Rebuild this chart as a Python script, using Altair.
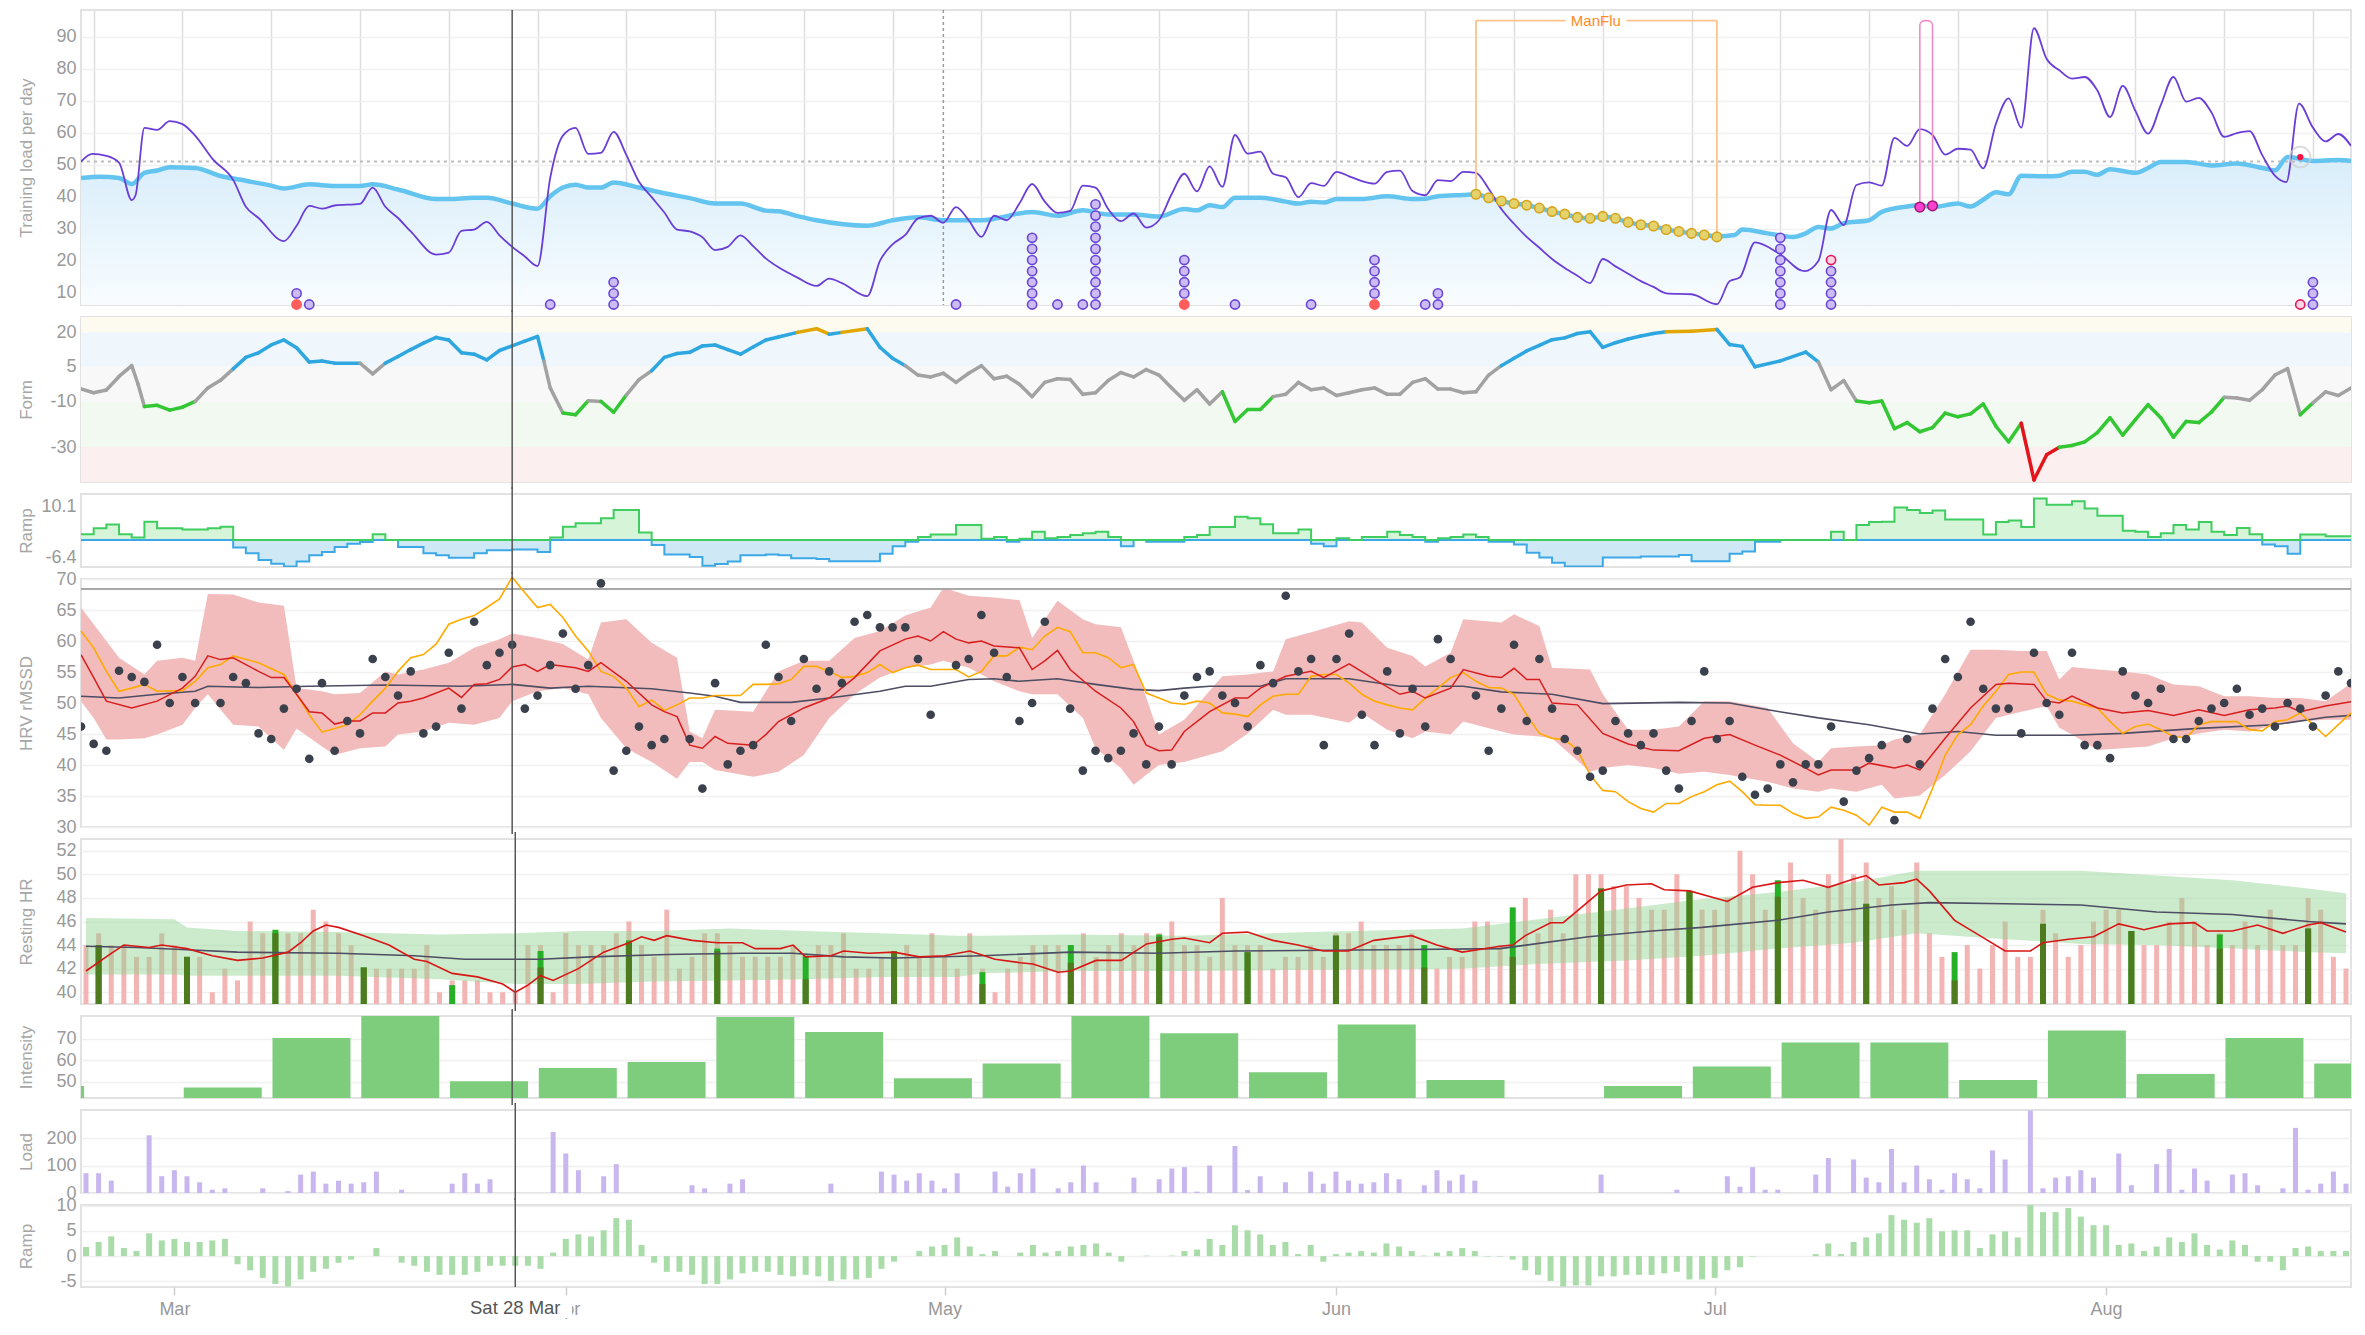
import altair as alt
import pandas as pd

FONT = "Liberation Sans, Arial, Helvetica, sans-serif"
W = 2270
XMAX = 179  # day index; day 0 = Sun 23 Feb 2020

# ---------------- axis / annotation values ----------------
MONTH_DAYS = [7, 38, 68, 99, 129, 160]
MONTHS = ["Mar", "Apr", "May", "Jun", "Jul", "Aug"]
MONDAYS = list(range(1, 180, 7))
CURSOR_DAY = 34
CURSOR_LABEL = "Sat 28 Mar"
MAY_DAY = 68
REF_LOAD = 51.0
MANFLU_START, MANFLU_END, MANFLU_TOP = 110, 129, 95.0
MANFLU_GAP = (117.05, 121.86)
MANFLU_Y0, MANFLU_Y1 = 40.8, 27.7
MANFLU_LABEL = "ManFlu"
PINK_BOX = (145, 146, 37.0, 95.0)
PINK_DOTS = [(145, 36.8), (146, 37.2)]
HOVER_DOT = (175, 52.4)

# ---------------- Training load ----------------
CTL = [(0,45.9),(1.5,46.3),(3,45.9),(4,44.0),(5,47.5),(6,48.2),(7,49.2),(9,49.0),(11,46.5),(13,45.0),(15,43.5),(16,42.6),(18,43.9),(20,43.4),(22,43.4),(23,43.9),(25,42.3),(28,39.3),(29,39.3),(31,39.7),(32,39.7),(34,37.9),(36,36.3),(37,40.2),(38,42.9),(39,43.8),(40,42.9),(41,42.9),(42,44.5),(44,42.9),(46,41.1),(48,39.6),(50,37.9),(52,37.9),(54,35.7),(55,35.5),(56.5,34.0),(58,32.7),(62,31.0),(64,32.7),(66,33.6),(68,32.7),(71,32.7),(75,35.3),(77,34.1),(79,35.8),(81,34.5),(83,34.5),(85,33.9),(87,36.2),(88,35.8),(89,37.4),(90,36.8),(91,39.7),(93,39.7),(95,38.5),(96,37.9),(97,38.5),(98,38.2),(99,39.3),(101,39.3),(103,40.2),(105,39.3),(106,39.4),(107,40.2),(109,40.6),(110,40.8),(111,39.7),(112,38.7),(113,37.9),(114,37.4),(115,36.5),(116,35.4),(117,34.6),(118,33.6),(119,33.3),(120,33.9),(121,33.3),(122,32.1),(123,31.3),(124,30.9),(125,29.8),(126,29.2),(127,28.6),(128,28.1),(129,27.7),(130.4,28.1),(131,29.8),(133,28.6),(135,27.5),(136,28.6),(137,30.6),(138,30.1),(139,31.8),(141,32.7),(142,35.3),(144,37.0),(145,37.4),(146,36.8),(148,37.9),(149,37.0),(150,39.1),(151,41.4),(152,40.8),(153,46.6),(155,46.4),(156,46.6),(157,47.8),(158,47.8),(159,46.9),(160,48.6),(162,47.5),(163,49.0),(164,50.9),(166,50.9),(168,49.8),(170,50.4),(172,49.0),(173,48.3),(174,52.4),(176,51.2),(178,51.5),(179,51.2)]
ATL = [(0,51.0),(0.9,53.4),(2,52.8),(3,50.7),(4,39.0),(4.3,40.5),(5,61.5),(6,60.9),(7,63.6),(8,62.7),(9,59.1),(10.4,51.7),(12,45.3),(13,36.9),(14,33.4),(16,26.2),(17,31.0),(18,37.2),(19,36.3),(20,37.3),(22,37.8),(23,42.9),(24,36.9),(25,33.4),(26,29.2),(28,22.0),(29,22.6),(30,29.4),(31,29.8),(32,32.2),(33,28.0),(34,24.4),(35,21.4),(36,18.4),(37,45.9),(38,59.1),(39,61.5),(40,53.4),(41,53.7),(42,60.3),(43,53.1),(44,44.7),(45,39.9),(46,35.1),(47,29.8),(48,29.2),(49,27.4),(50,23.4),(51,24.4),(52,28.0),(53,24.6),(54,20.8),(55,18.0),(56.5,14.8),(58,12.2),(59,14.5),(60,13.1),(62,9.0),(63,20.0),(64,25.2),(65,28.1),(66,33.3),(67,34.1),(68,31.9),(69,36.8),(70,32.7),(71,27.5),(72,34.1),(73,32.7),(74,37.9),(75,44.0),(76,38.5),(77,35.0),(78,35.6),(79,43.5),(80,42.9),(81,36.2),(82,32.4),(83,34.8),(84,30.4),(85,32.7),(86,40.8),(87,47.2),(88,41.7),(89,49.5),(90,43.1),(91,59.3),(92,53.5),(93,54.1),(94,47.2),(95,46.1),(96,39.9),(97,44.3),(98,43.4),(99,47.8),(100,46.4),(101,44.9),(102,44.1),(103,47.8),(104,48.2),(105,41.8),(106,40.5),(107,45.2),(108,44.9),(109,47.8),(110,47.5),(111,42.5),(112,36.2),(113,31.6),(114,27.5),(115,24.1),(116,20.6),(117,17.8),(118,15.4),(119,13.1),(120,20.6),(121,18.3),(122,16.0),(123,13.7),(124,11.9),(125,9.9),(127,9.6),(129,6.5),(130,13.7),(130.8,14.8),(132,25.8),(133.9,22.3),(135.9,16.8),(137,20.0),(138,35.9),(139,31.2),(140,43.7),(141,44.5),(142,43.5),(143,58.4),(144,55.9),(145,61.1),(146,59.3),(147,53.2),(148,55.0),(149,54.7),(150,48.9),(151,62.8),(152,70.7),(153,61.6),(154,92.6),(155,83.0),(156,79.5),(157,76.9),(158,77.4),(159,73.2),(160,64.9),(161,74.6),(162,66.8),(163,59.7),(164,68.6),(165,77.4),(166,69.7),(167,70.9),(168,66.3),(169,58.7),(170,59.9),(171,60.5),(172,53.0),(173,46.6),(173.9,44.6),(174.9,69.1),(176,61.6),(177,57.3),(178,59.6),(179,55.9)]
PROJECTED = [(110,40.8),(111,39.7),(112,38.7),(113,37.9),(114,37.4),(115,36.5),(116,35.4),(117,34.6),(118,33.6),(119,33.3),(120,33.9),(121,33.3),(122,32.1),(123,31.3),(124,30.9),(125,29.8),(126,29.2),(127,28.6),(128,28.1),(129,27.5)]
EVENTS = [(17,"RP"),(18,"P"),(37,"P"),(42,"PPP"),(69,"P"),(75,"PPPPPPP"),(77,"P"),(79,"P"),(80,"PPPPPPPPPP"),(87,"RPPPP"),(91,"P"),(97,"P"),(102,"RPPPP"),(106,"P"),(107,"PP"),(134,"PPPPPPP"),(138,"PPPPH"),(175,"H"),(176,"PPP")]

# ---------------- Form ----------------
FORM = [(0,-4.6),(1,-6.3),(2,-5.1),(3,0.8),(4,5.5),(4.5,-2.6),(5,-12.3),(6,-11.8),(7,-13.9),(8,-12.6),(9,-10.1),(10,-4.2),(11,-0.9),(12,4.1),(13,9.1),(14,11.1),(15,14.5),(16,16.7),(17,13.3),(18,7.1),(19,7.5),(20,6.6),(22,6.6),(23,1.9),(24,6.6),(25,9.5),(26,12.5),(27,15.3),(28,17.8),(29,16.7),(30,11.1),(31,10.5),(32,8.0),(33,12.1),(34,14.1),(35,16.2),(36,18.2),(36.5,7.5),(37,-4.2),(38,-15.1),(39,-15.9),(40,-9.8),(41,-10.1),(42,-14.8),(43,-7.3),(44,-0.6),(45,3.3),(46,9.1),(47,10.8),(48,11.3),(49,14.1),(50,14.5),(51,12.5),(52,10.5),(53,13.6),(54,16.7),(55,18.0),(56.5,20.0),(58,21.6),(59,19.2),(60,20.0),(62,21.6),(63,13.5),(64,8.7),(65,5.5),(66,1.4),(67,0.6),(68,2.2),(69,-1.8),(70,2.2),(71,5.5),(72,-0.2),(73,0.9),(74,-2.6),(75,-8.0),(76,-1.8),(77,-0.2),(78,-0.5),(79,-7.0),(80,-6.3),(81,-1.0),(82,2.5),(83,0.6),(84,3.8),(85,1.4),(86,-4.2),(87,-9.6),(88,-5.0),(89,-11.2),(90,-5.9),(91,-18.8),(92,-13.6),(93,-13.6),(94,-8.0),(95,-7.0),(96,-1.8),(97,-5.0),(98,-4.2),(99,-7.5),(100,-6.3),(101,-5.0),(102,-4.2),(103,-7.0),(104,-7.0),(105,-1.8),(106,-0.2),(107,-4.7),(108,-4.7),(109,-6.3),(110,-5.9),(111,1.4),(112,5.5),(113,8.7),(114,11.9),(115,14.3),(116,16.8),(117,17.6),(118,19.5),(119,20.3),(120,13.5),(121,15.5),(122,17.1),(123,18.4),(124,19.5),(125,20.3),(127,20.5),(129,21.3),(130,14.7),(131,13.9),(132,5.0),(134,7.6),(136,11.4),(137,7.1),(138,-5.0),(139,-1.0),(140,-9.9),(141,-10.7),(142,-9.9),(143,-22.0),(144,-19.3),(145,-23.3),(146,-21.5),(147,-15.2),(148,-16.8),(149,-15.5),(150,-11.2),(151,-20.9),(152,-27.7),(153,-19.6),(154,-44.3),(155,-33.3),(156,-30.1),(157,-29.3),(158,-27.7),(159,-23.7),(160,-17.2),(161,-24.8),(162,-18.0),(163,-11.5),(164,-17.2),(165,-25.7),(166,-18.8),(167,-19.3),(168,-14.7),(169,-8.3),(170,-8.6),(171,-9.6),(172,-5.0),(173,1.4),(174,4.2),(175,-15.9),(176,-10.7),(177,-5.9),(178,-7.5),(179,-4.2)]
FORM_ZONES = [(20, 26.7, "#fdfaf0"), (5, 20, "#eff7fd"), (-10, 5, "#f8f8f8"), (-30, -10, "#f1f9f1"), (-45.2, -30, "#fbf0ef")]

# ---------------- Ramp (step panel) ----------------
RAMP_STEP = [(0,1.4),(1,2.8),(2,3.7),(3,1.4),(4,0.6),(5,4.4),(6,2.8),(8,2.5),(10,2.8),(11,3.2),(12,-1.8),(13,-3.2),(14,-4.8),(15,-5.7),(16,-6.4),(17,-5.2),(18,-3.7),(19,-2.9),(20,-1.7),(21,-0.9),(22,-0.5),(23,1.4),(24,0),(25,-1.7),(27,-3.2),(28,-3.7),(29,-4.3),(31,-3.2),(32,-2.5),(34,-2.3),(36,-2.9),(37,0.6),(38,3.2),(39,4.0),(41,5.2),(42,7.2),(44,1.8),(45,-1.2),(46,-3.5),(48,-4.1),(49,-6.2),(50,-5.8),(51,-5.2),(52,-3.7),(54,-3.5),(55,-3.7),(56,-4.4),(58,-4.6),(59,-5.1),(63,-3.3),(64,-1.5),(65,-0.4),(66,0.7),(67,1.3),(69,3.6),(71,0.3),(72,0.7),(73,-0.4),(74,0.3),(75,2.0),(76,0.4),(77,0.7),(78,1.2),(79,1.6),(80,2.0),(81,0.7),(82,-1.5),(83,0),(84,-0.4),(87,0.7),(88,1.2),(89,3.1),(91,5.6),(92,5.2),(93,3.8),(94,1.6),(96,2.5),(97,-0.9),(98,-1.5),(99,0.4),(100,0),(101,0.7),(103,2.0),(104,1.2),(105,0.7),(106,-0.4),(107,0.4),(108,0.7),(109,1.3),(110,0.7),(111,-0.4),(113,-1.1),(114,-3.1),(115,-4.2),(116,-5.5),(117,-6.4),(120,-4.2),(123,-4.0),(126,-3.6),(127,-5.1),(130,-3.3),(131,-2.8),(132,-0.4),(134,0),(138,2.0),(139,0),(140,3.6),(141,4.3),(142,4.4),(143,7.8),(144,7.2),(145,6.5),(146,7.1),(147,4.9),(150,1.3),(151,4.3),(152,4.7),(153,3.1),(154,10.0),(155,8.5),(157,9.3),(158,7.6),(159,5.8),(161,2.2),(162,2.0),(163,0.7),(164,1.6),(165,3.6),(166,2.5),(167,4.3),(168,2.0),(169,1.2),(170,2.9),(171,1.4),(172,-1.1),(173,-1.5),(174,-3.3),(175,1.3),(177,0.9),(179,0.7)]
RAMP_TICKS = [10.1, -6.4]

# ---------------- HRV ----------------
HRV_BAND = [(0,65.4,50.3),(1,62.7,47.6),(2,60.0,44.1),(3,57.3,44.1),(5,54.6,44.3),(6,56.8,44.9),(8,57.3,46.5),(9,56.8,49.2),(10,67.6,51.4),(12,67.5,46.5),(14,66.2,46.2),(16,65.7,42.4),(17,52.4,45.9),(19,51.9,43.0),(20,51.4,41.6),(22,51.6,42.7),(24,55.1,43.0),(25,54.6,44.9),(27,55.4,45.4),(29,56.5,46.8),(31,58.9,46.5),(33,60.3,47.6),(34,61.2,50.3),(36,60.5,51.9),(38,59.5,52.4),(40,57.0,51.4),(41,63.0,47.6),(43,63.5,42.7),(45,59.7,40.5),(47,57.3,37.8),(48,45.4,40.5),(49,44.3,40.5),(50,48.9,39.2),(53,48.6,38.1),(55,55.1,38.9),(57,56.8,41.6),(59,56.8,47.6),(61,60.5,51.4),(63,61.6,54.1),(65,64.1,55.7),(67,65.4,56.2),(68,68.6,56.8),(70,67.3,55.7),(72,67.0,53.5),(74,66.6,51.9),(75,60.5,51.4),(77,66.5,51.4),(79,63.5,47.6),(80,62.7,42.7),(82,62.2,39.5),(83,56.8,36.8),(85,44.9,40.0),(87,47.3,40.5),(90,54.3,42.2),(92,54.6,45.1),(94,55.1,48.9),(95,60.3,48.1),(97,61.4,48.1),(100,63.2,46.8),(101,63.0,48.4),(103,58.9,45.7),(105,57.6,44.3),(106,55.9,45.4),(108,58.1,44.9),(109,63.5,47.0),(112,63.0,45.4),(113,64.3,44.9),(115,62.4,44.6),(116,55.7,44.3),(119,55.4,38.9),(120,51.4,39.5),(122,45.7,40.0),(124,45.7,39.5),(126,46.2,38.6),(128,50.3,38.9),(130,50.3,38.4),(133,49.2,37.3),(135,43.5,36.2),(137,40.5,35.7),(138,42.7,36.2),(140,43.0,35.7),(142,43.2,36.8),(143,44.1,34.6),(145,44.9,35.1),(147,51.4,38.4),(149,58.6,42.2),(151,58.6,47.6),(153,58.4,48.6),(155,58.4,49.5),(156,53.8,46.0),(157,55.8,44.9),(159,55.4,42.4),(161,55.1,42.7),(163,54.6,43.0),(165,53.0,44.3),(167,52.7,45.1),(169,51.1,45.7),(171,51.1,45.4),(173,50.8,46.5),(175,50.8,47.0),(177,50.3,47.3),(179,53.2,47.3)]
HRV_AVG7 = [(0,57.8),(1,54.1),(2,50.3),(4,49.2),(6,50.3),(8,52.4),(9,54.3),(10,57.6),(11,57.0),(12,57.3),(14,55.1),(15,54.1),(16,54.1),(17,51.4),(18,48.6),(19,48.4),(20,46.6),(21,47.1),(22,47.1),(23,48.4),(24,48.4),(25,50.0),(26,50.3),(27,50.8),(29,52.4),(30,50.9),(31,53.0),(32,53.1),(33,53.8),(34,55.8),(35,56.2),(36,55.1),(37,56.2),(39,55.7),(40,55.1),(41,56.5),(43,53.5),(45,49.7),(46,48.6),(47,47.8),(48,43.2),(49,42.7),(50,44.6),(51,43.5),(53,43.2),(54,44.9),(55,47.0),(57,49.2),(59,50.8),(61,54.1),(63,58.4),(65,60.3),(66,60.8),(67,60.0),(68,61.5),(69,60.3),(70,59.7),(71,60.0),(72,59.2),(74,58.9),(75,55.4),(76,56.8),(77,58.5),(78,55.4),(80,51.9),(82,49.2),(83,47.0),(84,43.2),(85,42.3),(86,42.4),(87,45.4),(89,48.6),(91,50.8),(92,50.8),(93,52.4),(95,54.3),(97,55.1),(98,54.1),(100,56.3),(102,53.8),(104,51.4),(105,51.9),(106,50.8),(108,52.4),(109,55.4),(111,54.3),(112,54.1),(113,55.6),(114,53.8),(115,53.8),(116,50.0),(118,49.7),(120,45.1),(122,43.4),(124,42.4),(126,42.3),(128,44.3),(130,44.9),(132,43.2),(134,41.6),(136,39.5),(137,38.4),(138,39.2),(140,39.2),(141,40.3),(143,39.5),(144,40.0),(145,39.2),(147,44.3),(149,49.2),(151,53.0),(152,53.2),(154,53.0),(155,50.3),(156,50.0),(157,51.1),(159,49.2),(161,48.4),(163,48.8),(165,48.0),(167,48.9),(169,48.0),(171,48.9),(173,49.2),(174,49.5),(175,48.6),(177,49.5),(179,50.2)]
HRV_SHORT = [(0,61.6),(1,58.9),(2,55.1),(3,51.9),(4,52.4),(5,53.0),(6,51.9),(8,52.0),(9,53.5),(10,55.7),(11,56.2),(12,57.6),(14,56.5),(16,54.6),(17,51.4),(18,48.1),(19,45.3),(20,45.9),(21,46.5),(22,48.1),(23,50.3),(24,52.4),(25,55.1),(26,57.3),(27,57.8),(28,59.5),(29,62.7),(30,63.5),(31,64.1),(32,65.4),(33,66.8),(34,70.3),(35,67.8),(36,65.4),(37,65.9),(38,63.8),(39,60.8),(40,58.4),(41,55.1),(42,54.3),(43,52.4),(44,49.4),(45,50.5),(46,48.8),(47,49.7),(48,50.8),(49,50.8),(50,51.2),(52,51.2),(53,53.0),(54,53.0),(55,53.1),(56,53.8),(57,55.9),(58,55.9),(59,55.1),(60,54.1),(61,54.3),(62,54.9),(63,56.2),(64,54.9),(65,55.7),(66,56.1),(67,55.4),(68,55.4),(69,55.4),(70,54.2),(71,55.1),(72,57.6),(73,57.6),(74,59.0),(75,58.6),(76,60.8),(77,62.2),(78,61.5),(79,58.1),(80,58.1),(81,57.3),(82,55.7),(83,56.2),(84,51.6),(85,50.8),(86,50.0),(87,49.8),(88,50.3),(89,50.0),(90,48.4),(91,48.2),(92,47.8),(93,49.7),(94,51.1),(95,51.4),(96,51.4),(97,54.3),(98,54.6),(99,54.6),(100,53.2),(101,51.4),(102,50.3),(103,49.7),(104,49.2),(105,48.9),(106,50.8),(107,52.4),(108,54.1),(109,54.9),(110,53.5),(111,52.5),(112,52.4),(113,51.4),(114,48.1),(115,45.1),(116,44.3),(117,44.1),(118,42.4),(119,38.4),(120,35.9),(121,35.7),(122,34.1),(123,33.0),(124,32.4),(125,33.8),(126,33.8),(127,34.9),(128,35.7),(129,36.8),(130,37.4),(131,35.7),(132,33.6),(133,33.5),(134,33.5),(135,32.2),(136,31.4),(137,31.6),(138,33.2),(139,32.7),(140,31.9),(141,30.3),(142,33.2),(143,32.4),(144,32.4),(145,31.4),(146,36.2),(147,41.6),(148,44.9),(149,46.5),(150,49.5),(151,51.9),(152,54.6),(153,55.0),(154,55.0),(155,51.4),(156,50.5),(157,50.3),(158,49.7),(159,49.2),(160,47.0),(161,45.1),(162,46.2),(163,46.6),(164,45.7),(165,44.6),(166,44.4),(167,46.5),(168,47.0),(169,47.0),(170,47.0),(171,45.7),(172,45.5),(173,47.0),(174,47.3),(175,48.4),(176,46.5),(177,44.6),(178,46.5),(179,48.4)]
HRV_BASE = [(0,51.1),(3,50.8),(6,51.4),(9,51.9),(10,52.7),(14,52.5),(18,52.7),(24,52.9),(30,52.7),(34,53.0),(37,52.4),(40,52.7),(45,52.3),(48,51.6),(50,51.1),(52,50.1),(56,50.1),(59,50.8),(63,51.9),(65,52.7),(67,52.7),(70,53.8),(72,53.9),(74,53.5),(77,53.9),(80,53.0),(83,52.2),(85,52.0),(87,52.4),(89,52.7),(93,52.7),(95,53.9),(100,53.9),(104,52.7),(109,52.7),(112,51.8),(116,51.4),(120,49.9),(126,50.1),(130,50.0),(133,48.9),(137,47.6),(141,46.5),(145,45.0),(148,45.4),(151,44.8),(157,44.8),(161,45.1),(167,45.9),(173,46.5),(177,47.7),(179,48.0)]
HRV_DAILY = [(0,46.2),(1,43.4),(2,42.3),(3,55.2),(4,54.2),(5,53.4),(6,59.4),(7,50.0),(8,54.2),(9,50.0),(11,50.0),(12,54.2),(13,53.2),(14,45.1),(15,44.2),(16,49.1),(17,52.3),(18,41.0),(19,53.2),(20,42.3),(21,47.1),(22,45.1),(23,57.1),(24,54.2),(25,51.2),(26,55.1),(27,45.1),(28,46.2),(29,58.1),(30,49.1),(31,63.1),(32,56.1),(33,58.1),(34,59.4),(35,49.1),(36,51.2),(37,56.1),(38,61.2),(39,52.3),(40,56.1),(41,69.3),(42,39.1),(43,42.3),(44,46.2),(45,43.2),(46,44.2),(48,44.2),(49,36.2),(50,53.2),(51,40.1),(52,42.3),(53,43.2),(54,59.4),(55,54.2),(56,47.1),(57,57.1),(58,52.3),(59,55.1),(60,53.2),(61,63.1),(62,64.2),(63,62.2),(64,62.2),(65,62.2),(66,57.1),(67,48.1),(69,56.1),(70,57.1),(71,64.2),(72,58.1),(73,54.2),(74,47.1),(75,50.0),(76,63.1),(78,49.1),(79,39.1),(80,42.3),(81,41.1),(82,42.3),(83,45.1),(84,40.1),(85,46.2),(86,40.1),(87,51.2),(88,54.2),(89,55.1),(90,51.2),(91,50.0),(92,46.2),(93,56.1),(94,53.2),(95,67.3),(96,55.1),(97,57.1),(98,43.2),(99,57.1),(100,61.2),(101,48.1),(102,43.2),(103,55.1),(104,45.1),(105,52.3),(106,46.2),(107,60.3),(108,57.1),(110,51.2),(111,42.3),(112,49.1),(113,59.4),(114,47.1),(115,57.1),(116,49.1),(117,44.2),(118,42.3),(119,38.1),(120,39.1),(121,47.1),(122,45.1),(123,43.2),(124,45.1),(125,39.1),(126,36.2),(127,47.1),(128,55.1),(129,44.2),(130,47.1),(131,38.1),(132,35.2),(133,36.2),(134,40.1),(135,37.2),(136,40.1),(137,40.1),(138,46.2),(139,34.1),(140,39.1),(141,41.1),(142,43.2),(143,31.1),(144,44.2),(145,40.1),(146,49.1),(147,57.1),(148,54.2),(149,63.1),(150,52.3),(151,49.1),(152,49.1),(153,45.1),(154,58.1),(155,50.0),(156,48.1),(157,58.1),(158,43.2),(159,43.2),(160,41.1),(161,55.1),(162,51.2),(163,50.0),(164,52.3),(165,44.2),(166,44.2),(167,47.1),(168,49.1),(169,50.0),(170,52.3),(171,48.1),(172,49.1),(173,46.2),(174,50.0),(175,49.1),(176,46.2),(177,51.2),(178,55.1),(179,53.2)]
HRV_REF = 68.4

# ---------------- Resting HR ----------------
RHR_DAILY = [44,45,44,44,43,43,45,44,43,43, 40,42,41,46,45,45,45,45,47,46, 45,44,42,42,42,42,42,44,40,41,
             41,41,40,40,40,44,44,40,45,44, 44,44,45,46,44,43,47,42,43,45, 45,44,43,43,43,43,44,43,44,44,
             45,42,42,43,43,44,43,45,43,42, 45,42,40,42,43,44,44,44,44,45, 43,44,45,44,45,45,46,44,44,43,
             48,44,44,44,42,43,43,44,43,45, 45,46,44,44,44,45,44,42,43,43, 46,46,44,47,48,45,47,45,50,50,
             50,49,49,48,47,47,50,47,47,47, 48,52,50,47,49,51,48,47,50,53, 50,51,48,49,47,51,45,43,43,44,
             42,44,46,43,43,47,45,43,44,46, 47,47,45,44,44,46,48,46,44,45, 44,46,44,47,44,44,48,47,43,42]
RHR_WEEKLY = [(1,44.0,44.0),(8,43.0,43.0),(15,45.3,45.0),(22,42.1,42.1),(29,40.6,39.0),(36,43.5,42.1),(43,44.4,44.2),(50,43.7,43.5),(57,43.1,41.1),(64,43.5,43.3),(71,41.7,40.7),(78,44.0,42.5),(85,44.9,44.7),(92,43.4,43.4),(99,44.8,44.8),(106,44.0,42.1),(113,47.2,43.0),(120,48.8,48.8),(127,48.6,48.6),(134,49.5,48.1),(141,47.5,47.5),(148,43.4,41.0),(155,45.8,45.8),(162,45.2,45.2),(169,44.9,43.7),(176,45.4,45.4)]
RHR_BAND = [(0,46.3,41.5),(7,46.2,41.5),(8,45.5,41.4),(12,45.2,41.4),(20,45.1,41.4),(28,44.9,41.1),(34,45.0,40.7),(39,45.2,40.7),(45,45.2,40.9),(51,45.4,41.0),(57,45.2,41.1),(63,45.0,41.3),(69,44.8,41.3),(71,44.8,41.6),(78,44.9,41.8),(87,44.8,41.8),(97,45.1,41.9),(109,45.4,42.0),(115,46.2,42.4),(122,47.1,42.7),(128,47.9,43.1),(134,48.5,43.7),(140,49.3,44.2),(145,50.3,45.0),(152,50.3,44.5),(158,50.3,44.1),(164,49.9,44.0),(170,49.5,43.7),(176,48.8,43.4),(179,48.4,43.3)]
RHR_AVG7 = [(0,41.8),(2,43.3),(3,44.0),(5,43.8),(6,44.0),(8,43.7),(10,43.1),(12,42.7),(14,42.9),(16,43.4),(17,44.2),(18,45.2),(19,45.7),(20,45.5),(22,44.8),(24,44.0),(26,42.8),(27,42.6),(29,41.6),(31,41.3),(33,40.7),(34,40.0),(35,40.6),(36,41.4),(37,41.0),(39,42.0),(41,43.4),(43,44.2),(44,44.7),(45,44.4),(46,44.8),(48,44.4),(50,44.2),(52,44.2),(53,43.7),(55,43.7),(56,44.0),(57,43.0),(59,43.1),(60,43.5),(62,43.3),(64,43.4),(66,43.0),(68,43.1),(70,43.5),(72,42.8),(74,42.5),(75,42.4),(77,41.7),(78,41.8),(80,42.7),(82,42.7),(84,44.1),(86,44.5),(87,44.6),(89,44.2),(90,45.0),(92,45.1),(94,44.4),(96,44.0),(98,43.5),(100,43.5),(102,44.4),(105,44.8),(107,44.0),(109,43.4),(112,43.9),(113,44.0),(114,44.8),(116,45.9),(117,45.9),(118,46.8),(120,48.6),(122,49.1),(124,49.2),(125,48.7),(127,48.6),(130,47.7),(132,48.9),(134,49.3),(136,49.5),(138,48.9),(140,49.6),(141,49.9),(142,49.1),(144,49.3),(145,49.6),(146,48.6),(148,46.1),(150,44.8),(152,43.5),(154,43.5),(155,44.2),(157,44.5),(159,44.7),(161,45.8),(163,45.3),(165,45.8),(167,45.9),(168,45.2),(170,45.2),(172,45.7),(174,45.0),(176,45.7),(177,45.9),(179,45.1)]
RHR_BASE = [(0,43.9),(4,43.8),(8,43.6),(12,43.4),(20,43.3),(26,43.1),(30,42.8),(36,42.8),(40,43.0),(46,43.2),(52,43.3),(56,43.3),(60,43.0),(64,42.9),(71,43.1),(78,43.4),(85,43.3),(91,43.5),(103,43.6),(112,43.7),(119,44.7),(124,45.2),(128,45.5),(134,46.1),(138,46.8),(143,47.4),(146,47.6),(152,47.5),(158,47.4),(164,46.8),(170,46.6),(176,46.0),(179,45.8)]

# ---------------- Weekly intensity, daily load & ramp ----------------
INTENSITY = [(-6,48.2),(8,47.4),(15,70.3),(22,80.8),(29,50.3),(36,56.5),(43,59.2),(50,80.0),(57,73.1),(64,51.7),(71,58.6),(78,80.8),(85,72.5),(92,54.5),(99,76.6),(106,50.9),(120,48.2),(127,57.2),(134,68.3),(141,68.3),(148,50.9),(155,73.8),(162,53.7),(169,70.3),(176,58.6)]
LOAD = [72,72,45,0,0,210,61,83,61,39, 12,17,0,0,17,0,7,67,78,34, 45,34,39,78,0,12,0,0,0,34,
        72,34,50,0,0,0,0,222,144,83, 0,61,105,0,0,0,0,0,28,17, 0,34,50,0,0,0,0,0,0,34,
        0,0,0,78,67,45,72,45,17,72, 0,0,78,23,72,89,0,17,39,100, 39,0,0,56,0,50,89,94,5,100,
        0,171,11,61,0,39,0,78,34,78, 45,34,39,72,50,0,28,83,45,67, 45,0,0,0,0,0,0,0,0,0,
        67,0,0,0,0,0,12,0,0,0, 61,23,94,12,12,0,0,67,127,0, 122,56,39,160,39,100,50,12,72,50,
        17,155,122,0,300,17,56,61,83,56, 0,144,28,0,105,160,12,89,45,0, 67,72,28,0,17,237,12,34,78,34]
RAMP = [1.8,2.8,3.9,1.6,1.0,4.5,3.1,3.4,2.8,2.8, 3.1,3.4,-1.6,-2.8,-4.3,-5.5,-6.0,-4.6,-3.1,-2.5,
        -1.3,-0.7,0,1.6,0,-1.3,-1.9,-3.1,-3.7,-3.7, -3.7,-3.1,-1.9,-1.9,-1.9,-1.9,-2.5,0.7,3.4,4.3,
        3.9,5.1,7.5,7.2,2.2,-1.3,-3.1,-3.1,-3.7,-5.5, -5.5,-4.6,-3.4,-3.1,-3.1,-3.7,-4.0,-3.7,-4.0,-4.9,
        -4.6,-4.6,-4.3,-2.5,-1.1,0,1.0,1.9,2.2,3.7, 1.9,0.4,1.0,0,0.7,2.2,0.7,1.0,1.9,2.2,
        2.5,0.7,-1.1,0,0.1,0,0.1,1.0,1.3,3.4, 2.2,6.1,5.1,4.3,2.2,2.8,0.4,2.2,-1.1,0.4,
        0.7,1.0,0.7,2.5,1.9,1.0,0.1,0.7,1.0,1.6, 1.0,-0.1,-0.1,-0.7,-2.8,-3.7,-4.9,-6.0,-5.8,-5.8,
        -4.0,-4.0,-3.7,-3.7,-3.7,-3.4,-3.1,-4.6,-4.6,-4.3, -2.8,-2.2,-0.1,0,0,0,0,0.4,2.5,0.4,
        2.8,3.7,4.5,8.1,7.2,6.6,7.5,4.9,5.1,5.1, 1.6,4.3,4.9,3.7,10.3,8.7,8.7,9.5,7.8,6.1,
        6.1,2.2,2.5,1.0,1.9,3.7,2.8,4.5,2.2,1.3, 3.1,2.2,-1.1,-1.1,-2.8,1.6,1.9,1.0,1.0,1.0]

# ---------------- helpers ----------------
XS = alt.Scale(domain=[0, XMAX], nice=False, zero=False)
GRID_AX = alt.Axis(values=MONDAYS, grid=True, gridColor="#dedede", gridWidth=1.5, labels=False,
                   ticks=False, domain=False, title=None)
LABEL_EXPR = " : ".join(f"datum.value == {d} ? '{m}'" for d, m in zip(MONTH_DAYS, MONTHS)) + " : ''"
BOTTOM_AX = alt.Axis(values=MONTH_DAYS, labelExpr=LABEL_EXPR, grid=False, ticks=True, tickSize=8,
                     tickColor="#d0d0d0", tickWidth=1.5, domain=False, title=None, labelPadding=5,
                     labelFontSize=18, labelColor="#999999", labelFont=FONT)


def xenc(ax=None, field="day"):
    return alt.X(f"{field}:Q", scale=XS, axis=ax)


def yaxis(title, h, values, grid=True, **kw):
    return alt.Axis(title=title, values=values, grid=grid, titleX=-55, titleY=h / 2, titleAngle=270,
                    titleAlign="center", titleBaseline="middle", labelExpr="'' + datum.value", **kw)


def df(pairs, cols=("day", "v")):
    return pd.DataFrame(pairs, columns=list(cols))


def cursor(h, ax=None, top=-7, bottom=7):
    return alt.Chart(pd.DataFrame({"day": [CURSOR_DAY]})).mark_rule(color="#555555", strokeWidth=1.5).encode(
        x=xenc(ax), y=alt.value(top), y2=alt.value(h + bottom))


# ---------------- panel 1: training load ----------------
H1, D1 = 295, [6.25, 98.3]
Y1S = alt.Scale(domain=D1, nice=False, zero=False)
Y1A = yaxis("Training load per day", H1, list(range(10, 91, 10)))


def y1(f="v"):
    return alt.Y(f"{f}:Q", scale=Y1S, axis=Y1A)


ctl_df, atl_df = df(CTL), df(ATL)
grad = alt.Gradient(gradient="linear", x1=0, x2=0, y1=0, y2=1,
                    stops=[alt.GradientStop(color="#d8edfa", offset=0),
                           alt.GradientStop(color="#f8fcff", offset=1)])
area1 = alt.Chart(ctl_df).mark_area(color=grad, interpolate="monotone", clip=True).encode(
    x=xenc(GRID_AX), y=y1(), y2=alt.datum(D1[0]))
ref1 = alt.Chart(pd.DataFrame({"v": [REF_LOAD]})).mark_rule(color="#bdbdbd", strokeDash=[3, 4], strokeWidth=2).encode(y=y1())
may1 = alt.Chart(pd.DataFrame({"day": [MAY_DAY]})).mark_rule(color="#9a9a9a", strokeDash=[3, 3], strokeWidth=1.5).encode(
    x=xenc(GRID_AX), y=alt.value(0), y2=alt.value(H1))
ctl_line = alt.Chart(ctl_df).mark_line(color="#62c4ef", strokeWidth=4.5, interpolate="monotone", clip=True).encode(
    x=xenc(GRID_AX), y=y1())
atl_line = alt.Chart(atl_df).mark_line(color="#6a3ed6", strokeWidth=1.8, interpolate="monotone", clip=True).encode(
    x=xenc(GRID_AX), y=y1())

mf_segs = pd.DataFrame([
    {"day": MANFLU_START, "day2": MANFLU_GAP[0], "v": MANFLU_TOP, "v2": MANFLU_TOP},
    {"day": MANFLU_GAP[1], "day2": MANFLU_END, "v": MANFLU_TOP, "v2": MANFLU_TOP},
    {"day": MANFLU_START, "day2": MANFLU_START, "v": MANFLU_TOP, "v2": MANFLU_Y0},
    {"day": MANFLU_END, "day2": MANFLU_END, "v": MANFLU_TOP, "v2": MANFLU_Y1},
])
mf_lines = alt.Chart(mf_segs).mark_rule(color="#ffc28a", strokeWidth=1.8).encode(
    x=xenc(GRID_AX), x2="day2:Q", y=y1(), y2="v2:Q")
mf_text = alt.Chart(pd.DataFrame({"day": [sum(MANFLU_GAP) / 2], "v": [MANFLU_TOP], "t": [MANFLU_LABEL]})).mark_text(
    color="#ff8a1f", fontSize=15, font=FONT, baseline="middle", align="center").encode(x=xenc(GRID_AX), y=y1(), text="t:N")
proj = alt.Chart(df(PROJECTED)).mark_circle(size=90, fill="#e4d36c", stroke="#d6a31a", strokeWidth=1.6, opacity=1).encode(
    x=xenc(GRID_AX), y=y1())
pink_box = alt.Chart(pd.DataFrame([{"day": PINK_BOX[0], "day2": PINK_BOX[1], "v": PINK_BOX[2], "v2": PINK_BOX[3]}])).mark_rect(
    fill=None, stroke="#f28cc8", strokeWidth=1.6, cornerRadius=5).encode(x=xenc(GRID_AX), x2="day2:Q", y=y1(), y2="v2:Q")
pink_dots = alt.Chart(df(PINK_DOTS)).mark_circle(size=95, fill="#ff40cf", stroke="#9a1a78", strokeWidth=1.5, opacity=1).encode(
    x=xenc(GRID_AX), y=y1())
hover_ring = alt.Chart(df([HOVER_DOT])).mark_point(size=420, shape="circle", filled=False, color="#cfcfcf", strokeWidth=2).encode(
    x=xenc(GRID_AX), y=y1())
hover_dot = alt.Chart(df([HOVER_DOT])).mark_circle(size=40, color="#ff1040", opacity=1).encode(x=xenc(GRID_AX), y=y1())

ev_rows = [{"day": d, "row": k, "kind": c} for d, s in EVENTS for k, c in enumerate(s)]
events = alt.Chart(pd.DataFrame(ev_rows)).transform_calculate(v="6.4 + 3.47 * datum.row").mark_point(
    shape="circle", filled=True, size=85, strokeWidth=1.6, opacity=1).encode(
    x=xenc(GRID_AX), y=y1(),
    fill=alt.Fill("kind:N", scale=alt.Scale(domain=["P", "R", "H"], range=["#cbbcf4", "#ff5c5c", "#fdd5e2"]), legend=None),
    stroke=alt.Stroke("kind:N", scale=alt.Scale(domain=["P", "R", "H"], range=["#6b45d6", "#ff5c5c", "#e6175c"]), legend=None))

p1 = alt.layer(area1, ref1, may1, ctl_line, atl_line, mf_lines, mf_text, proj, pink_box, pink_dots,
               hover_ring, hover_dot, events, cursor(H1, GRID_AX, top=0)).properties(width=W, height=H1)

# ---------------- panel 2: form ----------------
H2, D2 = 165, [-45.2, 26.7]
Y2S = alt.Scale(domain=D2, nice=False, zero=False)
Y2A = yaxis("Form", H2, [20, 5, -10, -30], grid=False)
zones = alt.Chart(pd.DataFrame(FORM_ZONES, columns=["lo", "hi", "c"])).mark_rect().encode(
    x=alt.value(0), x2=alt.value(W), y=alt.Y("hi:Q", scale=Y2S, axis=Y2A), y2="lo:Q", color=alt.Color("c:N", scale=None))
segs = pd.DataFrame([{"day": a[0], "v": a[1], "day2": b[0], "v2": b[1], "mid": (a[1] + b[1]) / 2}
                     for a, b in zip(FORM, FORM[1:])])
form_line = alt.Chart(segs).mark_rule(strokeWidth=3.5, strokeCap="round", clip=True).encode(
    x=xenc(), x2="day2:Q", y=alt.Y("v:Q", scale=Y2S, axis=Y2A), y2="v2:Q",
    color=alt.Color("mid:Q", scale=alt.Scale(type="threshold", domain=[-30, -10, 5, 20],
                                             range=["#e3141c", "#34c734", "#a2a2a2", "#2ea6e0", "#e2a600"]), legend=None))
p2 = alt.layer(zones, form_line, cursor(H2)).properties(width=W, height=H2)

# ---------------- panel 3: ramp (step) ----------------
H3, D3 = 73, [-6.5, 11.06]
Y3S = alt.Scale(domain=D3, nice=False, zero=False)
Y3A = alt.Axis(title="Ramp", values=RAMP_TICKS, grid=False, titleX=-55, titleY=H3 / 2, titleAngle=270,
               titleAlign="center", titleBaseline="middle", labelExpr="'' + datum.value",
               labelBaseline=alt.condition("datum.value > 0", alt.value("top"), alt.value("bottom")))
rs = alt.Chart(df(RAMP_STEP)).transform_calculate(pos="max(datum.v, 0)", neg="min(datum.v, 0)")
neg_area = rs.mark_area(interpolate="step-after", color="#cfe8f6").encode(
    x=xenc(), y=alt.Y("neg:Q", scale=Y3S, axis=Y3A), y2=alt.datum(0))
neg_line = rs.mark_line(interpolate="step-after", color="#3ca8e6", strokeWidth=2, clip=True).encode(
    x=xenc(), y=alt.Y("neg:Q", scale=Y3S, axis=Y3A))
pos_area = rs.mark_area(interpolate="step-after", color="#d5f4d8").encode(
    x=xenc(), y=alt.Y("pos:Q", scale=Y3S, axis=Y3A), y2=alt.datum(0))
pos_line = rs.mark_line(interpolate="step-after", color="#3fcd5f", strokeWidth=2, clip=True).encode(
    x=xenc(), y=alt.Y("pos:Q", scale=Y3S, axis=Y3A))
p3 = alt.layer(neg_area, pos_area, neg_line, pos_line, cursor(H3)).properties(width=W, height=H3)

# ---------------- panel 4: HRV ----------------
H4, D4 = 248, [30, 70]
Y4S = alt.Scale(domain=D4, nice=False, zero=False)
Y4A = yaxis("HRV rMSSD", H4, list(range(30, 71, 5)))


def y4(f="v"):
    return alt.Y(f"{f}:Q", scale=Y4S, axis=Y4A)


hrv_band = alt.Chart(df(HRV_BAND, ("day", "hi", "lo"))).mark_area(color="#f2bcbc").encode(x=xenc(), y=y4("hi"), y2="lo:Q")
hrv_ref = alt.Chart(pd.DataFrame({"v": [HRV_REF]})).mark_rule(color="#a8a8a8", strokeWidth=2).encode(y=y4())
hrv_base = alt.Chart(df(HRV_BASE)).mark_line(color="#4d4d63", strokeWidth=1.6, clip=True).encode(x=xenc(), y=y4())
hrv_short = alt.Chart(df(HRV_SHORT)).mark_line(color="#ffaa00", strokeWidth=1.6).encode(x=xenc(), y=y4())
hrv_avg = alt.Chart(df(HRV_AVG7)).mark_line(color="#d81e1e", strokeWidth=1.5, clip=True).encode(x=xenc(), y=y4())
hrv_dots = alt.Chart(df(HRV_DAILY)).mark_circle(size=75, color="#3a404c", opacity=1, clip=True).encode(x=xenc(), y=y4())
p4 = alt.layer(hrv_band, hrv_ref, hrv_base, hrv_short, hrv_avg, hrv_dots, cursor(H4)).properties(width=W, height=H4)

# ---------------- panel 5: resting HR ----------------
H5, D5 = 165, [39, 53]
Y5S = alt.Scale(domain=D5, nice=False, zero=False)
Y5A = yaxis("Resting HR", H5, list(range(40, 53, 2)))


def y5(f="v"):
    return alt.Y(f"{f}:Q", scale=Y5S, axis=Y5A)


rhr_df = pd.DataFrame({"day": list(range(len(RHR_DAILY))), "v": RHR_DAILY})
rhr_bars = alt.Chart(rhr_df).mark_bar(size=5, color="#f3b4b4", clip=True).encode(x=xenc(), y=y5(), y2=alt.datum(D5[0]))
rhr_band = alt.Chart(df(RHR_BAND, ("day", "hi", "lo"))).mark_area(color="#8ed28e", opacity=0.45).encode(
    x=xenc(), y=y5("hi"), y2="lo:Q")
wk = df(RHR_WEEKLY, ("day", "hi", "lo"))
wk_hi = alt.Chart(wk).mark_bar(size=6, color="#26b026", clip=True).encode(x=xenc(), y=y5("hi"), y2=alt.datum(D5[0]))
wk_lo = alt.Chart(wk).mark_bar(size=6, color="#4e7b1e", clip=True).encode(x=xenc(), y=y5("lo"), y2=alt.datum(D5[0]))
rhr_base = alt.Chart(df(RHR_BASE)).mark_line(color="#4d4d63", strokeWidth=1.6, clip=True).encode(x=xenc(), y=y5())
rhr_avg = alt.Chart(df(RHR_AVG7)).mark_line(color="#d81616", strokeWidth=1.6, clip=True).encode(x=xenc(), y=y5())
p5 = alt.layer(rhr_bars, rhr_band, wk_hi, wk_lo, rhr_base, rhr_avg, cursor(H5)).properties(width=W, height=H5)

# ---------------- panel 6: intensity ----------------
H6, D6 = 82, [42.6, 80.5]
Y6S = alt.Scale(domain=D6, nice=False, zero=False)
Y6A = yaxis("Intensity", H6, [50, 60, 70])
intensity = alt.Chart(df(INTENSITY, ("start", "v"))).transform_calculate(
    a="datum.start + 0.1", b="datum.start + 6.25").mark_bar(color="#7dcd7d", clip=True).encode(
    x=alt.X("a:Q", scale=XS, axis=None), x2="b:Q", y=alt.Y("v:Q", scale=Y6S, axis=Y6A), y2=alt.datum(D6[0]))
p6 = alt.layer(intensity, cursor(H6)).properties(width=W, height=H6)

# ---------------- panel 7: load ----------------
H7, D7 = 83, [0, 302]
Y7S = alt.Scale(domain=D7, nice=False, zero=False)
Y7A = yaxis("Load", H7, [0, 100, 200])
load_df = pd.DataFrame({"day": list(range(len(LOAD))), "v": LOAD})
load = alt.Chart(load_df).transform_filter("datum.v > 0").mark_bar(size=5, color="#c8b6ef", clip=True).encode(
    x=xenc(), y=alt.Y("v:Q", scale=Y7S, axis=Y7A), y2=alt.datum(0))
p7 = alt.layer(load, cursor(H7)).properties(width=W, height=H7)

# ---------------- panel 8: ramp bars + x axis ----------------
H8, D8 = 82, [-6.1, 10.1]
Y8S = alt.Scale(domain=D8, nice=False, zero=False)
Y8A = yaxis("Ramp", H8, [-5, 0, 5, 10])
ramp_df = pd.DataFrame({"day": list(range(len(RAMP))), "v": RAMP})
ramp = alt.Chart(ramp_df).transform_filter("datum.v != 0").mark_bar(size=6, color="#a9dca9", clip=True).encode(
    x=xenc(BOTTOM_AX), y=alt.Y("v:Q", scale=Y8S, axis=Y8A), y2=alt.datum(0))
lab_df = pd.DataFrame({"day": [CURSOR_DAY], "a": [CURSOR_DAY - 4.5], "b": [CURSOR_DAY + 4.5], "t": [CURSOR_LABEL]})
lab_box = alt.Chart(lab_df).mark_rect(color="white").encode(
    x=alt.X("a:Q", scale=XS, axis=BOTTOM_AX), x2="b:Q", y=alt.value(H8 + 9), y2=alt.value(H8 + 31))
lab_text = alt.Chart(lab_df).mark_text(font=FONT, fontSize=18.5, color="#555555", baseline="middle").encode(
    x=xenc(BOTTOM_AX), y=alt.value(H8 + 21), text="t:N")
p8 = alt.layer(ramp, cursor(H8, BOTTOM_AX, bottom=0), lab_box, lab_text).properties(width=W, height=H8)

chart = alt.vconcat(p1, p2, p3, p4, p5, p6, p7, p8, spacing=12, bounds="flush").resolve_scale(
    y="independent", color="independent", fill="independent", stroke="independent"
).resolve_axis(x="independent", y="independent").properties(
    padding={"left": 8, "top": 0, "right": 0, "bottom": 0}
).configure_axis(
    labelFont=FONT, titleFont=FONT, labelFontSize=18, titleFontSize=17, labelColor="#999999",
    titleColor="#a6a6a6", titleFontWeight="normal", ticks=False, domain=False, gridColor="#f0f0f0",
    gridWidth=1.5, labelPadding=5
).configure_view(stroke="#e2e2e2", strokeWidth=2)

chart.save("out.html", embed_options={"renderer": "svg", "actions": False})
